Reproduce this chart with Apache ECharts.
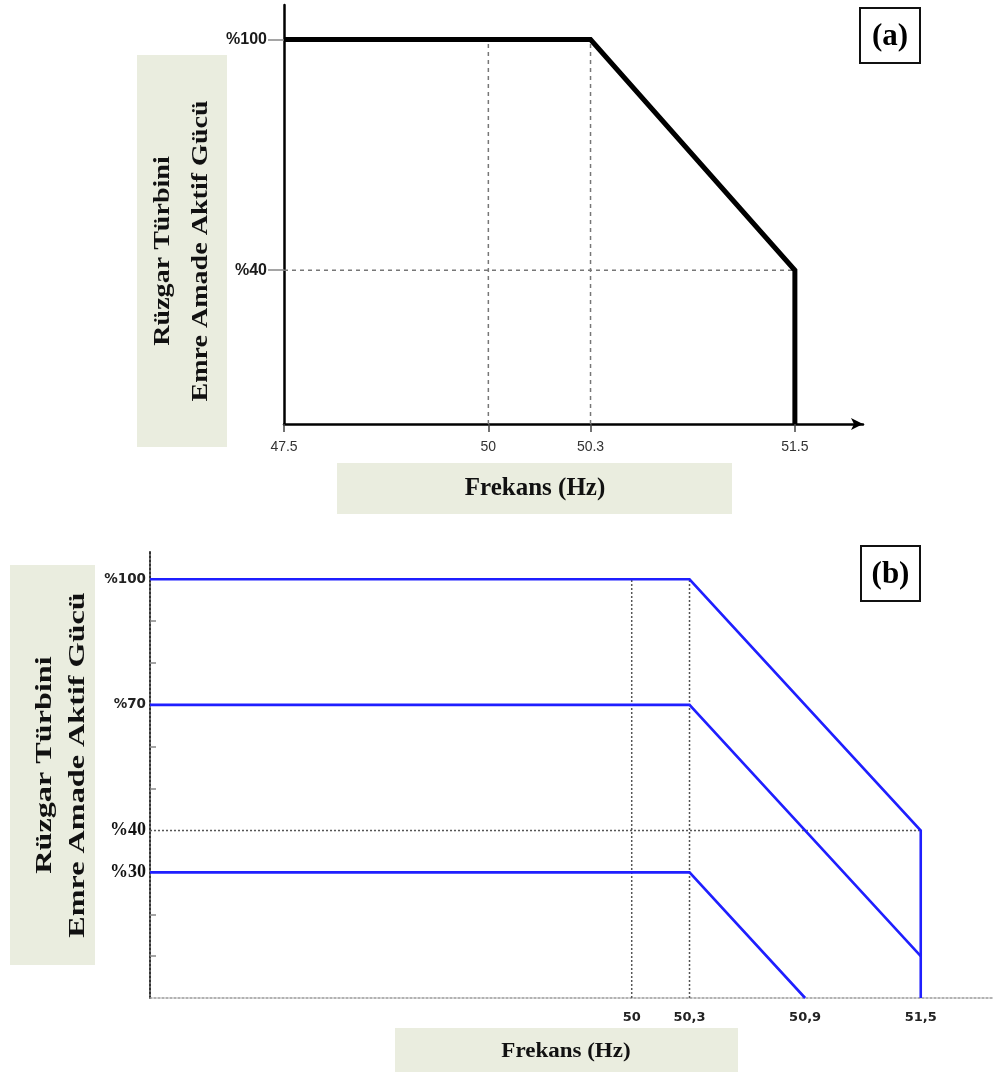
<!DOCTYPE html>
<html><head><meta charset="utf-8">
<script src="https://cdn.jsdelivr.net/npm/echarts@6/dist/echarts.min.js"></script>
<style>html,body{margin:0;padding:0;background:#fff}#c{width:995px;height:1074px}</style>
</head><body><div id="c"></div>
<script>
// ---------- DATA ----------
// Chart (a)
const tickLabelsA = ['47.5', '50', '50.3', '51.5'];
const freqA = ['47.5', '50.3', '51.5', '51.5'];
const powerA = [100, 100, 40, 0];
const yLabelsA = [40, 100];
const guideFreqsA = ['50', '50.3'];
// Chart (b)
const tickLabelsB = [50, 50.3, 50.9, 51.5];
const yLabelsB = [30, 40, 70, 100];
const yMinorTicksB = [10, 20, 50, 60, 80, 90];
const freqB1 = [47.5, 50.3, 51.5, 51.5];
const powerB1 = [100, 100, 40, 0];
const freqB2 = [47.5, 50.3, 51.5];
const powerB2 = [70, 70, 10];
const freqB3 = [47.5, 50.3, 50.9];
const powerB3 = [30, 30, 0];
const guideFreqsB = [50, 50.3];
const guideLevel = 40;
const guideTop = 100;
const yTitleLines = ['Rüzgar Türbini', 'Emre Amade Aktif Gücü'];
const xTitle = 'Frekans (Hz)';
const panelLabels = ['(a)', '(b)'];

// ---------- LAYOUT (schematic category slots for panel a) ----------
const slotsA = [0, 6, 9, 15];
const slotCountA = 18;
const catsA = Array.from({length: slotCountA}, (_, i) => {
  const k = slotsA.indexOf(i);
  return k >= 0 ? tickLabelsA[k] : '';
});
const isTickA = (i) => slotsA.indexOf(i) >= 0;

const zip = (xs, ys) => xs.map((x, i) => [x, ys[i]]);
const serif = 'Liberation Serif';

function guide(xi, yi, data, style) {
  return {type: 'line', xAxisIndex: xi, yAxisIndex: yi, data: data, symbol: 'none',
    silent: true, z: 1, lineStyle: style, animation: false};
}
const dashA = {color: '#777', width: 1.5, type: [4, 4]};
const dotB = {color: '#555', width: 1.5, type: [2, 2]};

const series = [];
guideFreqsA.forEach(f => series.push(guide(0, 0, [[f, 0], [f, guideTop]], dashA)));
series.push(guide(0, 0, [[tickLabelsA[0], guideLevel], [tickLabelsA[3], guideLevel]], dashA));
series.push({type: 'line', xAxisIndex: 0, yAxisIndex: 0, data: zip(freqA, powerA), symbol: 'none',
  z: 3, animation: false, lineStyle: {color: '#000', width: 5, join: 'miter', cap: 'butt'}});

guideFreqsB.forEach(f => series.push(guide(1, 1, [[f, 0], [f, guideTop]], dotB)));
series.push(guide(1, 1, [[freqB1[0], guideLevel], [tickLabelsB[3], guideLevel]], dotB));
const blue = {color: '#1f1fff', width: 2.6, join: 'miter'};
[[freqB1, powerB1], [freqB2, powerB2], [freqB3, powerB3]].forEach(([f, p]) => {
  series.push({type: 'line', xAxisIndex: 1, yAxisIndex: 1, data: zip(f, p), symbol: 'none',
    z: 3, animation: false, lineStyle: blue});
});

function titleBox(x, y, w, h) {
  return {type: 'rect', shape: {x: x, y: y, width: w, height: h}, style: {fill: '#eaeddf'}, silent: true, z: 0};
}
function titleText(text, cx, cy, size, sx, rot, lh) {
  return {type: 'text', x: cx, y: cy, rotation: rot, scaleX: sx, scaleY: 1, z: 5,
    style: {text: text, x: 0, y: 0, fill: '#111', fontFamily: serif, fontWeight: 'bold',
      fontSize: size, lineHeight: lh || size, align: 'center', verticalAlign: 'middle',
      textAlign: 'center', textVerticalAlign: 'middle'}};
}
function panelBox(x, y, w, h, text) {
  return [
    {type: 'rect', shape: {x: x, y: y, width: w, height: h}, style: {fill: '#fff', stroke: '#111', lineWidth: 2}, z: 5},
    {type: 'text', x: x + w / 2, y: y + h / 2 + 1, z: 6, style: {text: text, fill: '#000', fontFamily: serif,
      fontWeight: 'bold', fontSize: 31, align: 'center', verticalAlign: 'middle', textAlign: 'center', textVerticalAlign: 'middle'}}
  ];
}

const graphic = [
  titleBox(137, 55, 90, 392),
  titleText(yTitleLines.join('\n'), 182, 251, 23, 1.22, Math.PI / 2, 38),
  titleBox(337, 463, 395, 51),
  titleText(xTitle, 535, 489, 25, 1, 0),
  titleBox(10, 565, 85, 400),
  titleText(yTitleLines.join('\n'), 62, 765, 23, 1.4, Math.PI / 2, 33),
  titleBox(395, 1028, 343, 44),
  titleText(xTitle, 566, 1052, 20, 1.15, 0),
  ...panelBox(860, 8, 60, 55, panelLabels[0]),
  ...panelBox(861, 546, 59, 55, panelLabels[1])
];

const option = {
  animation: false,
  backgroundColor: '#fff',
  grid: [
    {left: 284, right: 132, top: 5, bottom: 650, outerBoundsMode: 'none', containLabel: false},
    {left: 150, right: 2, top: 550, bottom: 76, outerBoundsMode: 'none', containLabel: false}
  ],
  xAxis: [
    {type: 'category', gridIndex: 0, data: catsA, boundaryGap: false,
      axisLine: {lineStyle: {color: '#000', width: 2.5}, symbol: ['none', 'arrow'], symbolSize: [9, 12]},
      axisTick: {show: true, interval: (i) => isTickA(i), length: 8, lineStyle: {color: '#444', width: 1.5}},
      axisLabel: {interval: (i) => isTickA(i), color: '#333', fontSize: 14, fontFamily: 'Liberation Sans', margin: 16},
      splitLine: {show: false}},
    {type: 'value', gridIndex: 1, min: 47.5, max: 51.875,
      axisLine: {lineStyle: {color: '#999', width: 1.5, type: [2, 2]}},
      axisTick: {show: false},
      axisLabel: {customValues: tickLabelsB, formatter: (v) => String(v).replace('.', ','),
        color: '#222', fontSize: 13, fontWeight: 'bold', fontFamily: 'DejaVu Sans', margin: 13},
      splitLine: {show: false}}
  ],
  yAxis: [
    {type: 'value', gridIndex: 0, min: 0, max: 109,
      axisLine: {show: true, lineStyle: {color: '#000', width: 2.5}},
      axisTick: {show: true, customValues: yLabelsA, length: 16, lineStyle: {color: '#888', width: 1.5}},
      axisLabel: {customValues: yLabelsA, formatter: (v) => '%' + v, color: '#1a1a1a', fontSize: 16,
        fontWeight: 'bold', fontFamily: 'Liberation Sans', margin: 17},
      splitLine: {show: false}},
    {type: 'value', gridIndex: 1, min: 0, max: 107,
      axisLine: {show: true, lineStyle: {color: '#333', width: 2, type: [2, 2]}},
      axisTick: {show: true, inside: true, customValues: yMinorTicksB, length: 6, lineStyle: {color: '#888', width: 1.5}},
      axisLabel: {customValues: yLabelsB, margin: 4,
        formatter: (v) => (v === 30 || v === 40) ? '{s|%' + v + '}' : '{n|%' + v + '}',
        rich: {s: {fontFamily: serif, fontWeight: 'bold', fontSize: 18, color: '#111'},
               n: {fontFamily: 'DejaVu Sans', fontWeight: 'bold', fontSize: 13.5, color: '#222'}}},
      splitLine: {show: false}}
  ],
  series: series,
  graphic: graphic
};
const chart = echarts.init(document.getElementById('c'), null, {renderer: 'canvas'});
chart.setOption(option);
</script></body></html>
